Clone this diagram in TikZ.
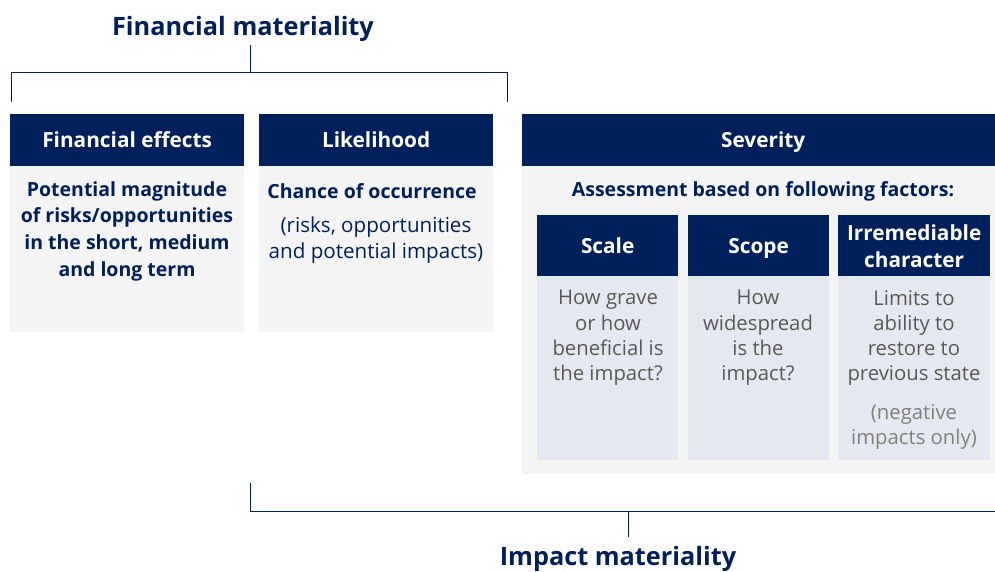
\documentclass[tikz,border=0pt]{standalone}
\usepackage{fontspec}
\setmainfont{Open Sans}
\newcommand\semib{\bfseries}
\definecolor{navy}{HTML}{00205B}
\definecolor{lightbg}{HTML}{F4F4F4}
\definecolor{subbg}{HTML}{E5E8EF}
\definecolor{graytxt}{HTML}{595959}
\definecolor{lgraytxt}{HTML}{808080}
\begin{document}
\begin{tikzpicture}[x=1pt,y=-1pt,
  hdr/.style={fill=navy,draw=none,text=white,font=\fontsize{20.8}{27}\selectfont\bfseries,align=center,inner sep=0pt},
  hdrone/.style={hdr,text height=16pt,text depth=1pt},
  bodybox/.style={fill=lightbg,draw=none,inner sep=0pt},
  subbody/.style={fill=subbg,draw=none,inner sep=0pt},
  semitxt/.style={text=navy,font=\fontsize{19.5}{26.7}\selectfont\semib,align=center,inner sep=0pt},
  regtxt/.style={text=navy,font=\fontsize{20.6}{26.5}\selectfont,align=center,inner sep=0pt},
  subtxt/.style={text=graytxt,font=\fontsize{20.3}{25.3}\selectfont,align=center,inner sep=0pt},
  subtxt2/.style={text=lgraytxt,font=\fontsize{20.3}{25.3}\selectfont,align=center,inner sep=0pt},
  titletxt/.style={text=navy,font=\fontsize{25.3}{30}\selectfont\bfseries,inner sep=0pt},
  brk/.style={draw=navy,line width=1pt}
]
\useasboundingbox (0,0) rectangle (995,571);
\clip (0,0) rectangle (995,571);

% boxes
\path[bodybox] (10,166) rectangle (244,332);
\path[bodybox] (259,166) rectangle (493,332);
\path[bodybox] (522,166) rectangle (1004,474);
\path[subbody] (537,276) rectangle (678,460);
\path[subbody] (688,276) rectangle (829,460);
\path[subbody] (838,276) rectangle (990,460);

\node[hdrone,minimum width=234pt,minimum height=52pt,anchor=north west] (feh) at (10,114) {Financial effects};
\node[hdrone,minimum width=234pt,minimum height=52pt,anchor=north west] (lh) at (259,114) {Likelihood};
\node[hdrone,minimum width=482pt,minimum height=52pt,anchor=north west] (sh) at (522,114) {Severity};

\node[hdrone,minimum width=141pt,minimum height=61pt,anchor=north west] (sch) at (537,215) {Scale};
\node[hdrone,minimum width=141pt,minimum height=61pt,anchor=north west] (sph) at (688,215) {Scope};
\node[hdr,minimum width=152pt,minimum height=61pt,anchor=north west] (irh) at (838,215) {Irremediable\\character};

% texts
\node[semitxt] (fet) at (127,231) {Potential magnitude\\of risks/opportunities\\in the short, medium\\and long term};
\node[semitxt] (lt1) at (372,191) {Chance of occurrence};
\node[regtxt] (lt2) at (376,240) {(risks, opportunities\\and potential impacts)};
\node[semitxt] (st) at (763,191) {Assessment based on following factors:};

\node[subtxt] (sct) at (608,338) {How grave\\or how\\beneficial is\\the impact?};
\node[subtxt] (spt) at (758,338) {How\\widespread\\is the\\impact?};
\node[subtxt] (irt) at (914,338) {Limits to\\ability to\\restore to\\previous state};
\node[subtxt2] (irt2) at (914,427) {(negative\\impacts only)};

% titles and brackets
\node[titletxt] (fm) at (243,29) {Financial materiality};
\node[titletxt] (im) at (618,559) {Impact materiality};

\coordinate (ftop) at (250,45);
\coordinate (fj) at (250,72);
\coordinate (fl) at (11,72);
\coordinate (fr) at (507,72);
\coordinate (fld) at (11,102);
\coordinate (frd) at (507,102);
\draw[brk] (ftop) -- (fj);
\draw[brk] (fld) -- (fl) -- (fr) -- (frd);

\coordinate (iup) at (250,483);
\coordinate (il) at (250,511);
\coordinate (ir) at (995,511);
\coordinate (ij) at (628,511);
\coordinate (ibot) at (628,537);
\draw[brk] (iup) -- (il) -- (ir);
\draw[brk] (ij) -- (ibot);
\end{tikzpicture}
\end{document}
